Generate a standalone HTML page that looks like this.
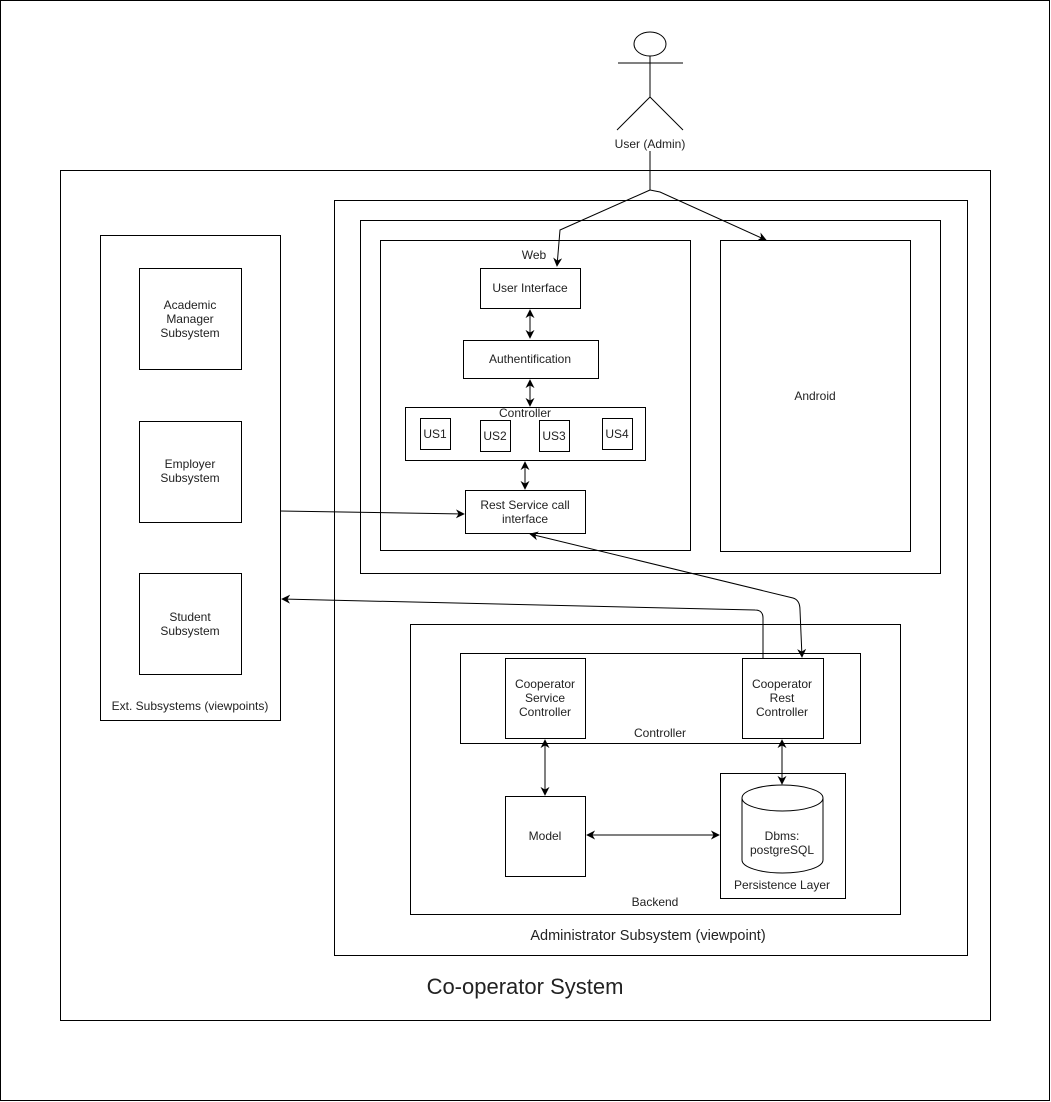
<!DOCTYPE html>
<html><head><meta charset="utf-8"><style>
html,body{margin:0;padding:0;background:#fff;}
svg{display:block;}
text{font-family:"Liberation Sans",Arial,sans-serif;font-size:12px;fill:#222;text-anchor:middle;}
</style></head><body>
<svg width="1051" height="1102" viewBox="0 0 1051 1102" xmlns="http://www.w3.org/2000/svg">
<defs>
<marker id="a" viewBox="0 0 10 10" refX="9" refY="5" markerWidth="9" markerHeight="9" orient="auto-start-reverse"><path d="M0,0 L10,5 L0,10 L3,5 z" fill="#000"/></marker>
</defs>
<g fill="none" stroke="#000" stroke-width="1">
<rect x="0.5" y="0.5" width="1049" height="1100"/>
<ellipse cx="650" cy="44" rx="16" ry="12"/>
<line x1="650" y1="56" x2="650" y2="97"/>
<line x1="618" y1="63" x2="683" y2="63"/>
<line x1="650" y1="97" x2="617" y2="130"/>
<line x1="650" y1="97" x2="683" y2="130"/>
<rect x="60.5" y="170.5" width="930" height="850"/>
<rect x="334.5" y="200.5" width="633" height="755"/>
<rect x="360.5" y="220.5" width="580" height="353"/>
<rect x="380.5" y="240.5" width="310" height="310"/>
<rect x="720.5" y="240.5" width="190" height="311"/>
<rect x="480.5" y="268.5" width="100" height="40"/>
<rect x="463.5" y="340.5" width="135" height="38"/>
<rect x="405.5" y="407.5" width="240" height="53"/>
<rect x="420.5" y="418.5" width="30" height="31"/>
<rect x="480.5" y="420.5" width="30" height="31"/>
<rect x="539.5" y="420.5" width="30" height="31"/>
<rect x="602.5" y="418.5" width="30" height="31"/>
<rect x="465.5" y="490.5" width="120" height="43"/>
<rect x="100.5" y="235.5" width="180" height="485"/>
<rect x="139.5" y="268.5" width="102" height="101"/>
<rect x="139.5" y="421.5" width="102" height="101"/>
<rect x="139.5" y="573.5" width="102" height="101"/>
<rect x="410.5" y="624.5" width="490" height="290"/>
<rect x="460.5" y="653.5" width="400" height="90"/>
<rect x="505.5" y="658.5" width="80" height="80"/>
<rect x="742.5" y="658.5" width="81" height="80"/>
<rect x="505.5" y="796.5" width="80" height="80"/>
<rect x="720.5" y="773.5" width="125" height="125"/>
<path d="M742,798 A40.5,13 0 0 1 823,798 L823,860 A40.5,13 0 0 1 742,860 Z"/>
<path d="M742,798 A40.5,13 0 0 0 823,798"/>
<path d="M650,151 L650,190 L560,230 L557,266" marker-end="url(#a)"/>
<path d="M650,190 L660,192 L766,240" marker-end="url(#a)"/>
<path d="M530,310 L530,338" marker-start="url(#a)" marker-end="url(#a)"/>
<path d="M530,380 L530,406" marker-start="url(#a)" marker-end="url(#a)"/>
<path d="M525,462 L525,489" marker-start="url(#a)" marker-end="url(#a)"/>
<path d="M280,511 L464,514" marker-end="url(#a)"/>
<path d="M530,534 L793,598 Q800,600 800,610 L802,657" marker-start="url(#a)" marker-end="url(#a)"/>
<path d="M763,658 L763,618 Q763,610 755,610 L282,599" marker-end="url(#a)"/>
<path d="M545,740 L545,795" marker-start="url(#a)" marker-end="url(#a)"/>
<path d="M782,740 L782,784" marker-start="url(#a)" marker-end="url(#a)"/>
<path d="M587,835 L719,835" marker-start="url(#a)" marker-end="url(#a)"/>
</g>
<text x="650" y="148">User (Admin)</text>
<text x="534" y="259">Web</text>
<text x="530" y="292">User Interface</text>
<text x="530" y="363">Authentification</text>
<text x="525" y="417">Controller</text>
<text x="435" y="438">US1</text>
<text x="495" y="440">US2</text>
<text x="554" y="440">US3</text>
<text x="617" y="438">US4</text>
<text x="525" y="509">Rest Service call</text>
<text x="525" y="523">interface</text>
<text x="815" y="400">Android</text>
<text x="190" y="309">Academic</text>
<text x="190" y="323">Manager</text>
<text x="190" y="337">Subsystem</text>
<text x="190" y="468">Employer</text>
<text x="190" y="482">Subsystem</text>
<text x="190" y="621">Student</text>
<text x="190" y="635">Subsystem</text>
<text x="190" y="710">Ext. Subsystems (viewpoints)</text>
<text x="545" y="688">Cooperator</text>
<text x="545" y="702">Service</text>
<text x="545" y="716">Controller</text>
<text x="782" y="688">Cooperator</text>
<text x="782" y="702">Rest</text>
<text x="782" y="716">Controller</text>
<text x="660" y="737">Controller</text>
<text x="545" y="840">Model</text>
<text x="782" y="840">Dbms:</text>
<text x="782" y="854">postgreSQL</text>
<text x="782" y="889">Persistence Layer</text>
<text x="655" y="906">Backend</text>
<text x="648" y="940" style="font-size:14.5px">Administrator Subsystem (viewpoint)</text>
<text x="525" y="994" style="font-size:22px">Co-operator System</text>
</svg>
</body></html>
